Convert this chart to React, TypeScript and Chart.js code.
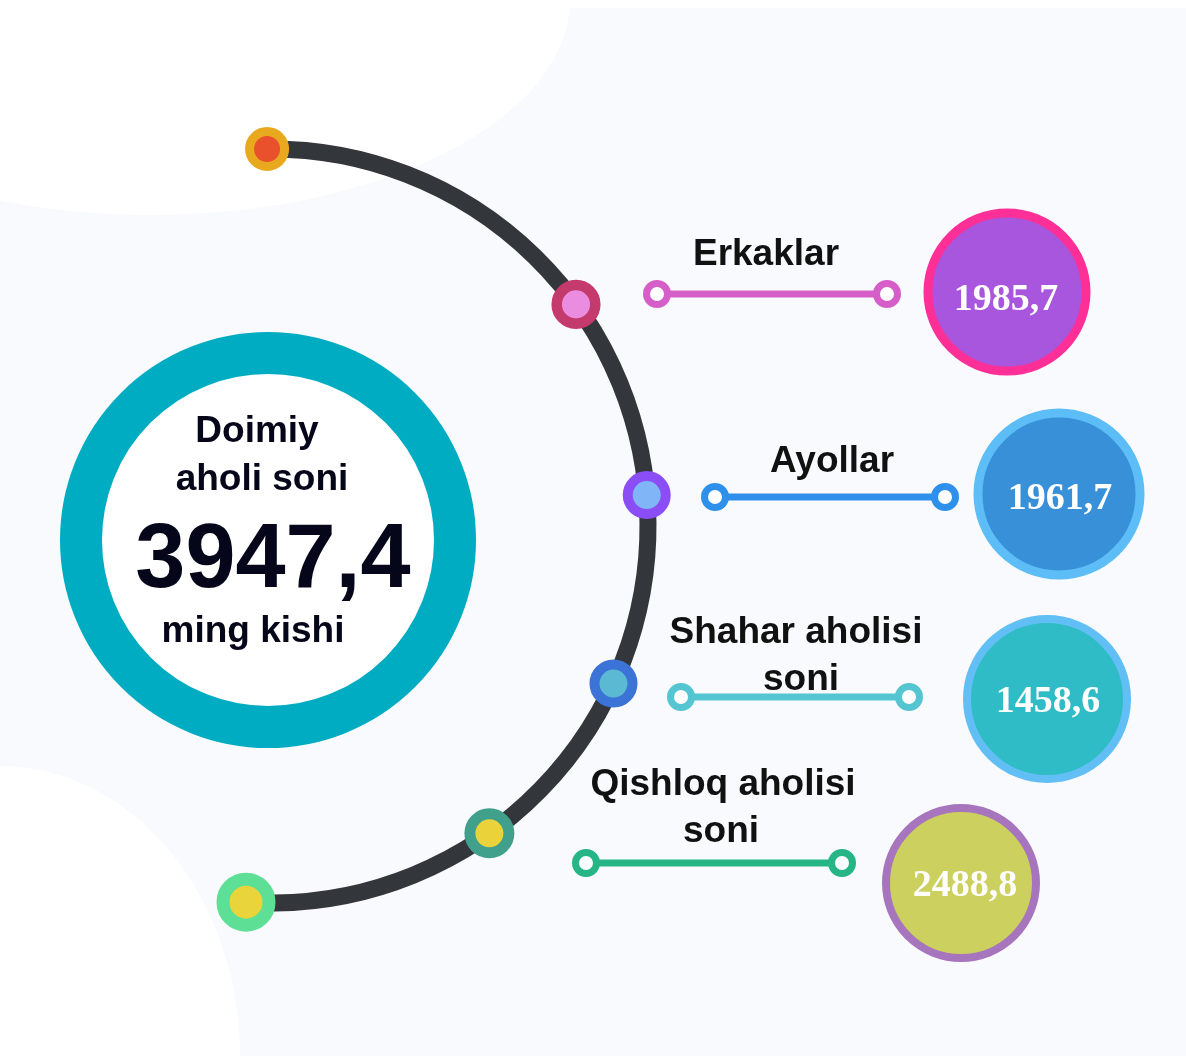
import React, { useEffect, useRef } from 'react';
import { Chart, registerables } from 'chart.js';

Chart.register(...registerables);

// ---------- DATA ----------
const categories = ['Erkaklar', 'Ayollar', 'Shahar aholisi soni', 'Qishloq aholisi soni'];
const categoryLines = [['Erkaklar'], ['Ayollar'], ['Shahar aholisi', 'soni'], ['Qishloq aholisi', 'soni']];
const values = [1985.7, 1961.7, 1458.6, 2488.8];
const totalTitle = ['Doimiy', 'aholi soni'];
const totalValue = 3947.4;
const totalUnit = 'ming kishi';

// ---------- LAYOUT / STYLE ----------
const W = 1186;
const H = 1056;
const ARC = { cx: 271, cy: 526, r: 377, start: -90.6, end: 93.8, width: 17, color: '#33363a' };
// arc nodes: start, 4 categories, end (angles in degrees along the arc)
const nodeAngles = [-90.6, -36.0, -4.7, 24.7, 54.6, 93.8];
const nodeRadius = [17.5, 19.3, 19, 19, 19.5, 23];
const nodeBorder = [9, 10.5, 10, 10, 11, 13];
const nodeOuter = ['#e9a91f', '#c43a6c', '#8b4ef6', '#3b73d7', '#40a08c', '#5ddf95'];
const nodeInner = ['#e8512b', '#ea8cdf', '#80b6f8', '#5cb9d3', '#ead23b', '#e9d43b'];

const connX0 = [657, 715, 681, 586];
const connX1 = [887, 945, 909, 842];
const connY = [294, 497, 697, 863];
const connColor = ['#d55ec9', '#2e90ea', '#55c5d1', '#26b686'];

const labelX = [[766], [832], [796, 801], [723, 721]];
const labelBase = [[265], [472], [643, 690], [795, 842]];

const bubbleX = [1007, 1059, 1047, 961];
const bubbleY = [292, 494, 699, 883];
const bubbleR = [79, 81, 80, 75];
const bubbleBorderW = [9, 9, 8, 8];
const bubbleFill = ['#a956de', '#3790d8', '#30bcc6', '#cbd05f'];
const bubbleBorder = ['#fe2f97', '#5dbdf6', '#62bff5', '#a775be'];
const valueBase = [310, 509, 712, 896];
const valueX = [1006, 1060, 1048, 965];

const RING = { cx: 268, cy: 540, outer: 208, inner: 166, color: '#00acc1' };

const fmt = (v: number) => v.toFixed(1).replace('.', ',');
const rad = (d: number) => (d * Math.PI) / 180;

export default function App() {
  const ref = useRef<HTMLCanvasElement | null>(null);

  useEffect(() => {
    document.body.style.margin = '0';
    const canvas = ref.current;
    if (!canvas) return;

    const nodes = nodeAngles.map((a) => ({
      x: ARC.cx + ARC.r * Math.cos(rad(a)),
      y: ARC.cy + ARC.r * Math.sin(rad(a)),
    }));

    const decor = {
      id: 'decor',
      beforeDraw(chart: any) {
        const { ctx } = chart;
        const xs = chart.scales.x;
        const ys = chart.scales.y;
        ctx.save();
        ctx.fillStyle = '#f9fafd';
        ctx.fillRect(0, 0, chart.width, chart.height);
        ctx.fillStyle = '#ffffff';
        ctx.beginPath();
        ctx.ellipse(xs.getPixelForValue(150), ys.getPixelForValue(0), 420, 215, 0, 0, Math.PI * 2);
        ctx.fill();
        ctx.beginPath();
        ctx.ellipse(xs.getPixelForValue(0), ys.getPixelForValue(1056), 240, 290, 0, 0, Math.PI * 2);
        ctx.fill();
        ctx.fillRect(0, 0, chart.width, 8);
        ctx.restore();
      },
      beforeDatasetsDraw(chart: any) {
        const { ctx } = chart;
        const xs = chart.scales.x;
        const ys = chart.scales.y;
        ctx.save();
        // central ring
        const rcx = xs.getPixelForValue(RING.cx);
        const rcy = ys.getPixelForValue(RING.cy);
        const k = xs.getPixelForValue(1) - xs.getPixelForValue(0);
        ctx.fillStyle = '#ffffff';
        ctx.beginPath();
        ctx.arc(rcx, rcy, RING.inner * k, 0, Math.PI * 2);
        ctx.fill();
        ctx.strokeStyle = RING.color;
        ctx.lineWidth = (RING.outer - RING.inner) * k;
        ctx.beginPath();
        ctx.arc(rcx, rcy, ((RING.outer + RING.inner) / 2) * k, 0, Math.PI * 2);
        ctx.stroke();
        // big arc
        const acx = xs.getPixelForValue(ARC.cx);
        const acy = ys.getPixelForValue(ARC.cy);
        const ar = xs.getPixelForValue(ARC.cx + ARC.r) - acx;
        ctx.strokeStyle = ARC.color;
        ctx.lineWidth = ARC.width;
        ctx.lineCap = 'butt';
        ctx.beginPath();
        ctx.arc(acx, acy, ar, rad(ARC.start), rad(ARC.end), false);
        ctx.stroke();
        ctx.restore();
      },
      afterDatasetsDraw(chart: any) {
        const { ctx } = chart;
        const xs = chart.scales.x;
        const ys = chart.scales.y;
        ctx.save();
        ctx.textAlign = 'center';
        ctx.textBaseline = 'alphabetic';
        // category labels
        ctx.fillStyle = '#111111';
        ctx.font = 'bold 37px "Liberation Sans", Arial, sans-serif';
        categoryLines.forEach((lines, i) => {
          lines.forEach((t, j) => {
            ctx.fillText(t, xs.getPixelForValue(labelX[i][j]), ys.getPixelForValue(labelBase[i][j]));
          });
        });
        // values in bubbles
        ctx.fillStyle = '#ffffff';
        ctx.font = 'bold 38px "Liberation Serif", "Times New Roman", serif';
        values.forEach((v, i) => {
          ctx.fillText(fmt(v), xs.getPixelForValue(valueX[i]), ys.getPixelForValue(valueBase[i]));
        });
        // center texts
        ctx.fillStyle = '#06061a';
        ctx.font = 'bold 37px "Liberation Sans", Arial, sans-serif';
        ctx.fillText(totalTitle[0], xs.getPixelForValue(257), ys.getPixelForValue(442));
        ctx.fillText(totalTitle[1], xs.getPixelForValue(262), ys.getPixelForValue(490));
        ctx.fillText(totalUnit, xs.getPixelForValue(253), ys.getPixelForValue(642));
        ctx.font = 'bold 90px "Liberation Sans", Arial, sans-serif';
        ctx.fillText(fmt(totalValue), xs.getPixelForValue(273), ys.getPixelForValue(587));
        ctx.restore();
      },
    };

    const connectorSets = categories.map((c, i) => ({
      type: 'line' as const,
      label: c,
      data: [
        { x: connX0[i], y: connY[i] },
        { x: connX1[i], y: connY[i] },
      ],
      showLine: true,
      borderColor: connColor[i],
      borderWidth: 7,
      pointRadius: 10.5,
      pointBorderWidth: 7,
      pointBackgroundColor: '#ffffff',
      pointBorderColor: connColor[i],
      order: 2,
    }));

    const chart = new Chart(canvas, {
      type: 'scatter',
      data: {
        datasets: [
          ...connectorSets,
          {
            label: 'arc nodes',
            data: nodes,
            pointRadius: nodeRadius,
            pointBorderWidth: nodeBorder,
            pointBackgroundColor: nodeInner,
            pointBorderColor: nodeOuter,
            order: 1,
          } as any,
          {
            label: 'values',
            data: values.map((v, i) => ({ x: bubbleX[i], y: bubbleY[i], v })),
            pointRadius: bubbleR,
            pointBorderWidth: bubbleBorderW,
            pointBackgroundColor: bubbleFill,
            pointBorderColor: bubbleBorder,
            order: 0,
          } as any,
        ],
      },
      options: {
        animation: false,
        responsive: false,
        maintainAspectRatio: false,
        events: [],
        layout: { padding: 0, autoPadding: false },
        plugins: { legend: { display: false }, tooltip: { enabled: false } },
        scales: {
          x: { type: 'linear', min: 0, max: W, display: false },
          y: { type: 'linear', min: 0, max: H, reverse: true, display: false },
        },
      },
      plugins: [decor],
    });

    return () => chart.destroy();
  }, []);

  return (
    <div style={{ width: W, height: H, position: 'relative' }}>
      <canvas ref={ref} width={W} height={H} style={{ display: 'block' }} />
    </div>
  );
}
